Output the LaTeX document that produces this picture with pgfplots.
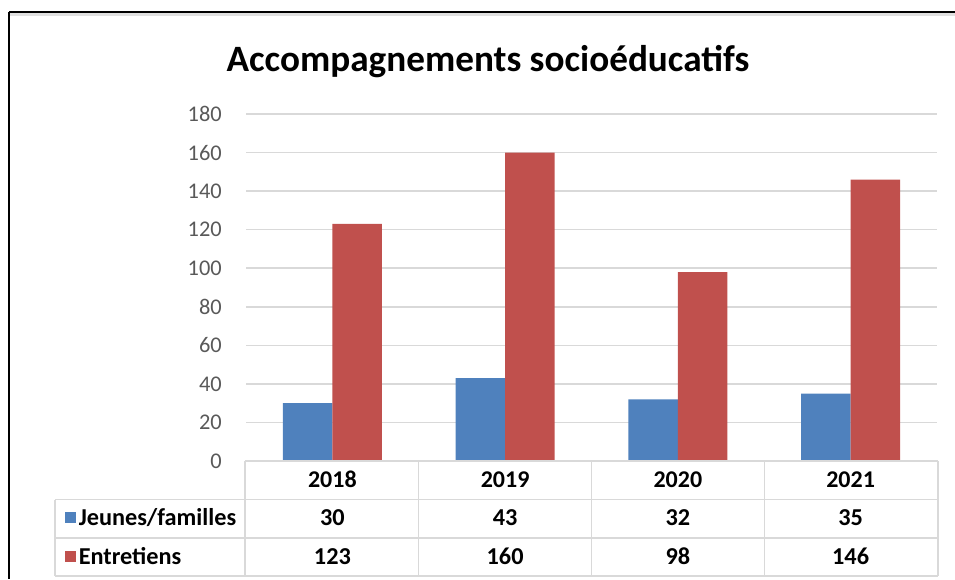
\documentclass[border=0pt]{standalone}
\usepackage{pgfplots}
\pgfplotsset{compat=1.18}
\usepackage{pgfplotstable}
\usepackage{fontspec}
\setmainfont{Carlito}
\definecolor{xblue}{HTML}{4F81BD}
\definecolor{xred}{HTML}{C0504D}
\definecolor{xgrid}{HTML}{D9D9D9}
\definecolor{xtick}{HTML}{595959}
\pgfplotstableread{
idx year jeunes entretiens
0 2018 30 123
1 2019 43 160
2 2020 32 98
3 2021 35 146
}\datatable
\begin{document}
\begin{tikzpicture}[x=0.75pt,y=0.75pt]
\useasboundingbox (0,0) rectangle (955,579);
% chart border
\fill[black!12] (9,563) rectangle (955,566);
\draw[black,line width=1.5pt] (9,567) -- (955,567);
\draw[black,line width=1.1pt] (9,567) -- (9,0);
% title
\node[font=\fontsize{27.9}{32}\selectfont\bfseries, anchor=base, inner sep=0pt] at (488,507) {Accompagnements socioéducatifs};
\begin{axis}[
  at={(184.5pt,88.5pt)}, anchor=south west,
  scale only axis, width=518.25pt, height=260.25pt,
  xmin=-0.5, xmax=3.5, ymin=0, ymax=180,
  ybar=0pt, bar width=37.2pt,
  axis line style={draw=none},
  major tick length=0pt,
  ymajorgrids, grid style={xgrid, line width=1.2pt},
  ytick={0,20,...,180},
  xtick={0,1,2,3}, xticklabels={2018,2019,2020,2021},
  xticklabel style={font=\fontsize{18}{20}\selectfont\bfseries, anchor=base, inner sep=0pt, yshift=-19.5pt},
  yticklabel style={font=\fontsize{16.8}{18}\selectfont, text=xtick, anchor=east, inner sep=0pt, xshift=-18pt},
  /pgf/number format/assume math mode=true,
  clip=false,
]
\addplot[fill=xblue, draw=none] table[x=idx, y=jeunes]{\datatable};
\addplot[fill=xred, draw=none] table[x=idx, y=entretiens]{\datatable};
\end{axis}
% data table grid
\begin{scope}[draw=xgrid, line width=1.2pt]
\draw (245,118) -- (938,118);
\draw (55,79.5) -- (938,79.5);
\draw (55,41) -- (938,41);
\draw (55,3) -- (938,3);
\draw (245,118) -- (245,3);
\draw (55,79.5) -- (55,3);
\foreach \x in {418.5,591.5,764.5,938} \draw (\x,118) -- (\x,3);
\end{scope}
% legend keys
\fill[xblue] (64.5,56) rectangle (75.5,67);
\fill[xred] (64.5,17.5) rectangle (75.5,28.5);
\begin{scope}[every node/.style={font=\fontsize{18.2}{20}\selectfont\bfseries, anchor=base, inner sep=0pt}]
\node[anchor=base west] at (78.5,54) {Jeunes/familles};
\node[anchor=base west] at (78.5,15) {Entretiens};
\node at (332.4,54) {30};
\node at (505.1,54) {43};
\node at (677.9,54) {32};
\node at (850.6,54) {35};
\node at (332.4,15) {123};
\node at (505.1,15) {160};
\node at (677.9,15) {98};
\node at (850.6,15) {146};
\end{scope}
\end{tikzpicture}
\end{document}
